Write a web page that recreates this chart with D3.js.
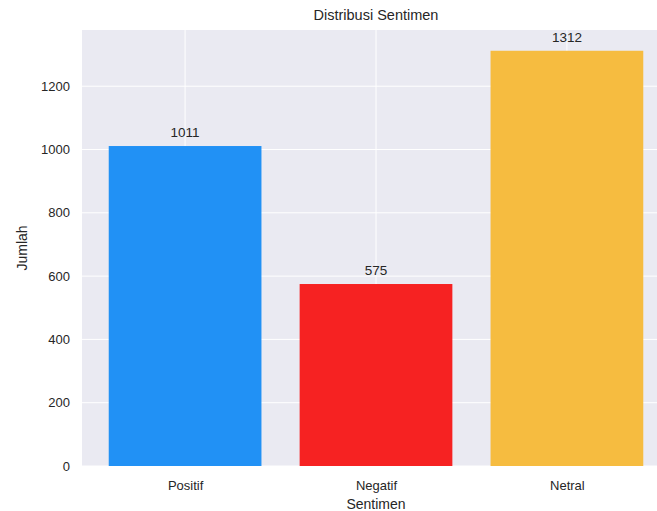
<!DOCTYPE html>
<html><head><meta charset="utf-8">
<script src="https://cdn.jsdelivr.net/npm/d3@7"></script>
<style>
html,body{margin:0;padding:0;background:#fff;overflow:hidden;}
text{font-family:"Liberation Sans",Arial,sans-serif;fill:#262626;}
</style></head>
<body><svg id="c" width="657" height="511"></svg>
<script>
const categories = ["Positif", "Negatif", "Netral"];
const counts = [1011, 575, 1312];
const barColors = ["#2191F5", "#F62222", "#F6BC40"];
const yTicks = [0, 200, 400, 600, 800, 1000, 1200];
const title = "Distribusi Sentimen";
const xLabel = "Sentimen";
const yLabel = "Jumlah";

const W = 657, H = 511;
const plot = {left: 82, top: 30, right: 670, bottom: 466};
const svg = d3.select("#c");

const x = d3.scaleLinear().domain([-0.54, 2.54]).range([plot.left, plot.right]);
const y = d3.scaleLinear().domain([0, d3.max(counts) * 1.05]).range([plot.bottom, plot.top]);

svg.append("rect").attr("x", plot.left).attr("y", plot.top)
  .attr("width", plot.right - plot.left).attr("height", plot.bottom - plot.top)
  .attr("fill", "#EAEAF2");

// grid
const g = svg.append("g");
g.selectAll("line.h").data(yTicks).join("line")
  .attr("x1", plot.left).attr("x2", plot.right)
  .attr("y1", d => y(d)).attr("y2", d => y(d))
  .attr("stroke", "#fff").attr("stroke-width", 1);
g.selectAll("line.v").data(categories).join("line")
  .attr("x1", (d, i) => x(i)).attr("x2", (d, i) => x(i))
  .attr("y1", plot.top).attr("y2", plot.bottom)
  .attr("stroke", "#fff").attr("stroke-width", 1);

// bars
svg.selectAll("rect.bar").data(counts).join("rect")
  .attr("class", "bar")
  .attr("x", (d, i) => x(i - 0.4))
  .attr("width", (d, i) => x(i + 0.4) - x(i - 0.4))
  .attr("y", d => y(d))
  .attr("height", d => y(0) - y(d))
  .attr("fill", (d, i) => barColors[i]);

// bar labels
svg.selectAll("text.val").data(counts).join("text")
  .attr("x", (d, i) => x(i)).attr("y", d => y(d) - 9)
  .attr("text-anchor", "middle").attr("font-size", "13.5px")
  .text(d => d);

// y axis
const yAxis = d3.axisLeft(y).tickValues(yTicks).tickFormat(d3.format("d")).tickSize(0).tickPadding(12);
const ya = svg.append("g").attr("transform", `translate(${plot.left},0)`).call(yAxis);
ya.select(".domain").remove();
ya.selectAll("text").attr("font-size", "13px").style("font-family", "Liberation Sans, Arial, sans-serif").attr("fill", "#262626");

// x axis
const xAxis = d3.axisBottom(x).tickValues(categories.map((c, i) => i)).tickFormat(i => categories[i]).tickSize(0).tickPadding(15);
const xa = svg.append("g").attr("transform", `translate(0,${plot.bottom})`).call(xAxis);
xa.select(".domain").remove();
xa.selectAll("text").attr("font-size", "13px").style("font-family", "Liberation Sans, Arial, sans-serif").attr("fill", "#262626");

// titles
const cx = (plot.left + plot.right) / 2;
svg.append("text").attr("x", cx).attr("y", 20).attr("text-anchor", "middle")
  .attr("font-size", "14.5px").text(title);
svg.append("text").attr("x", cx).attr("y", 509).attr("text-anchor", "middle")
  .attr("font-size", "14px").text(xLabel);
svg.append("text").attr("transform", `translate(27,${(plot.top + plot.bottom) / 2}) rotate(-90)`)
  .attr("text-anchor", "middle").attr("font-size", "14px").text(yLabel);
</script></body></html>
